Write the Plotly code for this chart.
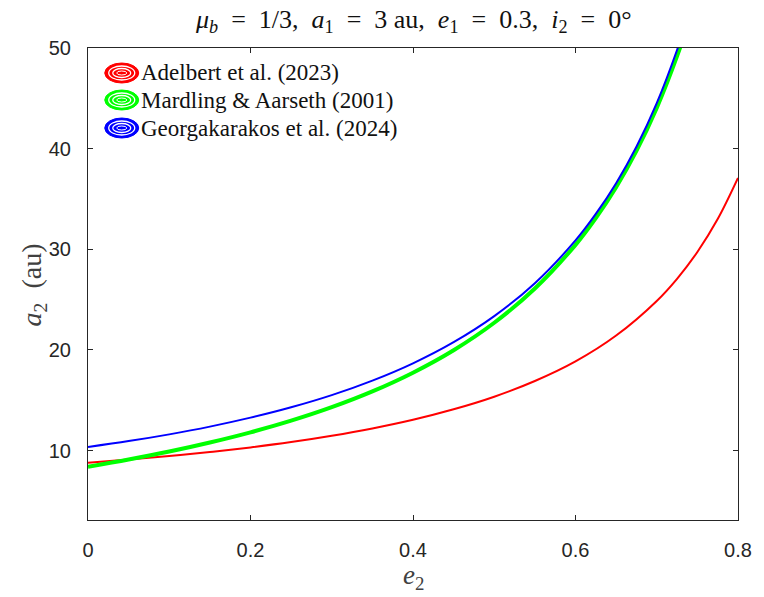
import plotly.graph_objects as go

# ---- data ----
e_red = [0.0, 0.05, 0.1, 0.15, 0.2, 0.25, 0.3, 0.35, 0.4, 0.45, 0.5, 0.55, 0.6, 0.65, 0.7, 0.725, 0.75, 0.775, 0.8]
a_red = [8.80, 9.10, 9.45, 9.85, 10.31, 10.84, 11.47, 12.20, 13.06, 14.10, 15.35, 16.91, 18.86, 21.43, 24.87, 27.07, 29.73, 33.00, 37.09]

e_green = [0.0, 0.05, 0.1, 0.15, 0.2, 0.25, 0.3, 0.35, 0.4, 0.45, 0.5, 0.55, 0.6, 0.625, 0.65, 0.675, 0.7, 0.725, 0.74]
a_green = [8.40, 9.11, 9.90, 10.80, 11.81, 12.97, 14.31, 15.88, 17.74, 19.97, 22.70, 26.10, 30.44, 33.10, 36.17, 39.78, 44.05, 49.19, 52.8]

e_blue = [0.0, 0.05, 0.1, 0.15, 0.2, 0.25, 0.3, 0.35, 0.4, 0.45, 0.5, 0.55, 0.6, 0.625, 0.65, 0.675, 0.7, 0.725, 0.74]
a_blue = [10.35, 10.94, 11.61, 12.38, 13.27, 14.30, 15.51, 16.95, 18.67, 20.77, 23.36, 26.63, 30.88, 33.51, 36.57, 40.19, 44.52, 49.8, 53.5]

series_names = ["Adelbert et al. (2023)", "Mardling &amp; Aarseth (2001)", "Georgakarakos et al. (2024)"]
series_colors = ["#FF0000", "#00FF00", "#0000FF"]
series_widths = [2, 4, 2]

x_ticks = [0, 0.2, 0.4, 0.6, 0.8]
x_ticklabels = ["0", "0.2", "0.4", "0.6", "0.8"]
y_ticks = [10, 20, 30, 40, 50]
y_ticklabels = ["10", "20", "30", "40", "50"]

xs = [e_red, e_green, e_blue]
ys = [a_red, a_green, a_blue]

fig = go.Figure()
for x, y, c, w, n in zip(xs, ys, series_colors, series_widths, series_names):
    fig.add_trace(go.Scatter(x=x, y=y, mode="lines", name=n,
                             line=dict(color=c, width=w, shape="spline", smoothing=1.0),
                             showlegend=False))

axis_color = "#262626"
tick_font = dict(family="Liberation Sans, Arial, sans-serif", size=20, color=axis_color)

fig.update_xaxes(range=[0, 0.8], tickvals=x_ticks, ticktext=x_ticklabels,
                 showline=True, linecolor=axis_color, linewidth=1, mirror="ticks",
                 ticks="inside", ticklen=5, tickcolor=axis_color, showgrid=False,
                 zeroline=False, tickfont=tick_font, ticklabelstandoff=12)
fig.update_yaxes(range=[3.1, 50], tickvals=y_ticks, ticktext=y_ticklabels,
                 showline=True, linecolor=axis_color, linewidth=1, mirror="ticks",
                 ticks="inside", ticklen=5, tickcolor=axis_color, showgrid=False,
                 zeroline=False, tickfont=tick_font, ticklabelstandoff=12)

W, H = 764, 597
L, R, T, B = 88, 21, 48, 77
pw, ph = W - L - R, H - T - B

def px_x(px):
    return (px - L) / pw

def px_y(py):
    return (H - B - py) / ph

serif = "Liberation Serif, Times New Roman, serif"
annotations = []
shapes = []

# manual legend (concentric ellipse icons + text)
legend_rows = [73, 100, 128]
for name, col, row in zip(series_names, series_colors, legend_rows):
    ya = px_y(row)
    xa = px_x(122)
    for (hw, hh, fill, lc, lw) in [(17, 10, col, col, 1),
                                   (13, 7, "rgba(0,0,0,0)", "white", 1.3),
                                   (9, 4.5, "rgba(0,0,0,0)", "white", 1.3),
                                   (5, 2, "rgba(0,0,0,0)", "white", 1.0)]:
        shapes.append(dict(type="circle", xref="paper", yref="paper",
                           xsizemode="pixel", ysizemode="pixel",
                           xanchor=xa, yanchor=ya,
                           x0=-hw, x1=hw, y0=-hh, y1=hh,
                           fillcolor=fill, line=dict(color=lc, width=lw)))
    annotations.append(dict(text=name, x=px_x(139), y=ya, xref="paper", yref="paper",
                            xanchor="left", yanchor="middle", showarrow=False,
                            font=dict(family=serif, size=23, color="#111111")))

sp = "&nbsp;"
eq = sp * 2 + "=" + sp * 2
title_txt = ("<i>μ<sub>b</sub></i>" + eq + "1/3," + sp * 2 + "<i>a</i><sub>1</sub>" + eq + "3" + sp + "au,"
             + sp * 2 + "<i>e</i><sub>1</sub>" + eq + "0.3," + sp * 2 + "<i>i</i><sub>2</sub>" + eq + "0°")
annotations.append(dict(text=title_txt, x=0.5, y=px_y(21), xref="paper", yref="paper",
                        xanchor="center", yanchor="middle", showarrow=False,
                        font=dict(family=serif, size=26, color="#111111")))
# x label
annotations.append(dict(text="<i>e</i><sub>2</sub>", x=0.5, y=px_y(577), xref="paper", yref="paper",
                        xanchor="center", yanchor="middle", showarrow=False,
                        font=dict(family=serif, size=27, color="#404040")))
# y label
annotations.append(dict(text="<i>a</i><sub>2</sub>" + sp * 2 + "(au)", x=px_x(33), y=px_y(285),
                        xref="paper", yref="paper",
                        xanchor="center", yanchor="middle", showarrow=False, textangle=-90,
                        font=dict(family=serif, size=28, color="#404040")))

fig.update_layout(width=W, height=H, margin=dict(l=L, r=R, t=T, b=B),
                  paper_bgcolor="white", plot_bgcolor="white",
                  annotations=annotations, shapes=shapes, showlegend=False)

fig.write_html("out.html")
